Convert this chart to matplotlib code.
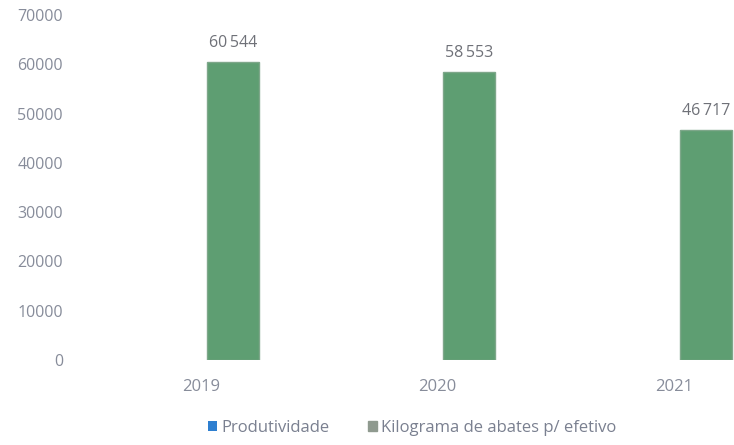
import numpy as np
import matplotlib.pyplot as plt

anos = ['2019', '2020', '2021']
produtividade = [0, 0, 0]
kg_abates = [60544, 58553, 46717]
rotulos = ['60\u2009544', '58\u2009553', '46\u2009717']

plt.rcParams['font.family'] = ['Open Sans', 'DejaVu Sans']

fig = plt.figure(figsize=(7.34, 4.45), dpi=100)
# eixo: 0 em y=360 px, 70000 em y=15 px
ax = fig.add_axes([0.0954, 0.191, 0.9046, 0.775])

x = np.arange(len(anos))
w = 0.22
off = 0.135
ax.bar(x + off - w, produtividade, w, color='#2e7fd0', label='Produtividade')
ax.bar(x + off, kg_abates, w, color='#5e9e72', edgecolor='#7ea78a',
       linewidth=1, label='Kilograma de abates p/ efetivo')

for xi, v, t in zip(x, kg_abates, rotulos):
    ax.text(xi + off, v + 2200, t, ha='center', va='bottom',
            fontsize=11.5, color='#6f7178')

ax.set_xlim(-0.554, 2.254)
ax.set_ylim(0, 70000)
ax.set_yticks(np.arange(0, 70001, 10000))
ax.set_xticks(x)
ax.set_xticklabels(anos)
ax.tick_params(axis='both', length=0, colors='#878c9a')
ax.tick_params(axis='x', labelsize=12, pad=14)
ax.tick_params(axis='y', labelsize=11.5, pad=5)
for s in ax.spines.values():
    s.set_visible(False)

leg = fig.legend(loc='center', bbox_to_anchor=(0.562, 0.038), ncol=2,
                 frameon=False, fontsize=12, handlelength=0.55, handleheight=0.55,
                 handletextpad=0.25, columnspacing=2.3, labelcolor='#7a8090')
leg.legend_handles[1].set_facecolor('#8f9a8f')
leg.legend_handles[1].set_edgecolor('#8f9a8f')

fig.savefig('out.png', dpi=100)
